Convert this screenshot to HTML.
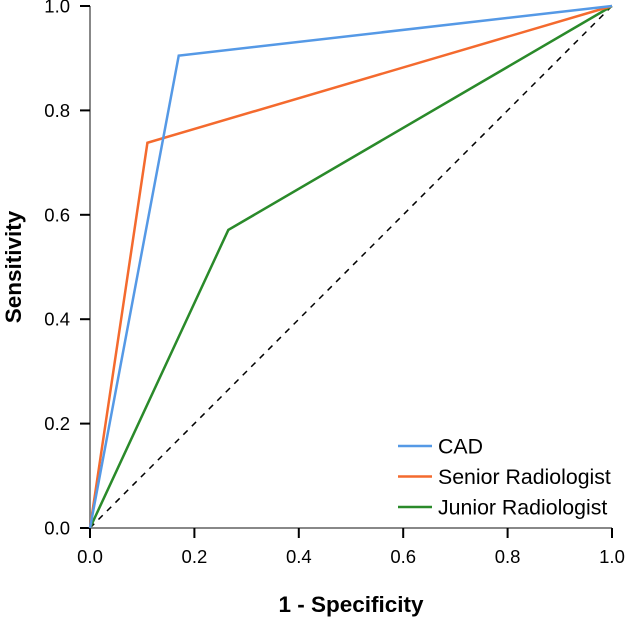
<!DOCTYPE html>
<html><head><meta charset="utf-8"><style>
body{margin:0;background:#fff;}
svg{display:block;font-family:"Liberation Sans",Arial,sans-serif;}
</style></head><body>
<svg id="chart" width="627" height="619" viewBox="0 0 627 619">
<g id="axes"></g>
<g id="series"></g>
<g id="legend"></g>
<text x="351" y="612" text-anchor="middle" font-size="22.5" font-weight="bold">1 - Specificity</text>
<text transform="translate(21,267) rotate(-90)" text-anchor="middle" font-size="22.5" font-weight="bold">Sensitivity</text>
</svg>
<script>
const xTicks=[0,0.2,0.4,0.6,0.8,1.0];
const yTicks=[0,0.2,0.4,0.6,0.8,1.0];
const seriesNames=["CAD","Senior Radiologist","Junior Radiologist"];
const seriesColors=["#5599e6","#f46a2e","#2a8a2a"];
const cadFpr=[0,0.17,1];
const cadTpr=[0,0.905,1];
const seniorFpr=[0,0.11,1];
const seniorTpr=[0,0.738,1];
const juniorFpr=[0,0.265,1];
const juniorTpr=[0,0.571,1];
const X0=90,X1=612,Y0=528,Y1=6;
const sx=v=>X0+v*(X1-X0), sy=v=>Y0-v*(Y0-Y1);
const NS="http://www.w3.org/2000/svg";
function mk(t,a,p){const e=document.createElementNS(NS,t);for(const k in a)e.setAttribute(k,a[k]);p.appendChild(e);return e;}
const ax=document.getElementById('axes');
let l=mk('line',{x1:X0,y1:Y0,x2:X1,y2:Y0,stroke:'#888','stroke-width':2},ax);


l=mk('line',{x1:X0,y1:Y0,x2:X0,y2:Y1,stroke:'#888','stroke-width':2},ax);


xTicks.forEach(v=>{
 const t=mk('line',{x1:sx(v),y1:Y0,x2:sx(v),y2:Y0+10,stroke:'#000','stroke-width':2},ax);
 
 
 const tx=mk('text',{x:sx(v),y:Y0+35,'text-anchor':'middle','font-size':18.5},ax);
 tx.textContent=v.toFixed(1);
 
 
});
yTicks.forEach(v=>{
 const t=mk('line',{x1:X0-10,y1:sy(v),x2:X0,y2:sy(v),stroke:'#000','stroke-width':2},ax);
 
 
 const tx=mk('text',{x:X0-20,y:sy(v)+6.5,'text-anchor':'end','font-size':18.5},ax);
 tx.textContent=v.toFixed(1);
 
 
});
const sg=document.getElementById('series');
const d=mk('line',{x1:sx(0),y1:sy(0),x2:sx(1),y2:sy(1),stroke:'#000','stroke-width':1.5,'stroke-dasharray':'6,6'},sg);


const data=[[juniorFpr,juniorTpr,2],[seniorFpr,seniorTpr,1],[cadFpr,cadTpr,0]];
data.forEach(([f,t,i])=>{
 const pts=f.map((v,j)=>sx(v)+','+sy(t[j])).join(' ');
 const p=mk('polyline',{points:pts,fill:'none',stroke:seriesColors[i],'stroke-width':2.5},sg);
 
 
});
const lg=document.getElementById('legend');
seriesNames.forEach((n,i)=>{
 const y=446+i*30.5;
 const ln=mk('line',{x1:398,y1:y,x2:432,y2:y,stroke:seriesColors[i],'stroke-width':2.5},lg);
 
 
 const tx=mk('text',{x:438,y:y+7.5,'font-size':21.3},lg);
 tx.textContent=n;
 
 
});
</script>
</body></html>
